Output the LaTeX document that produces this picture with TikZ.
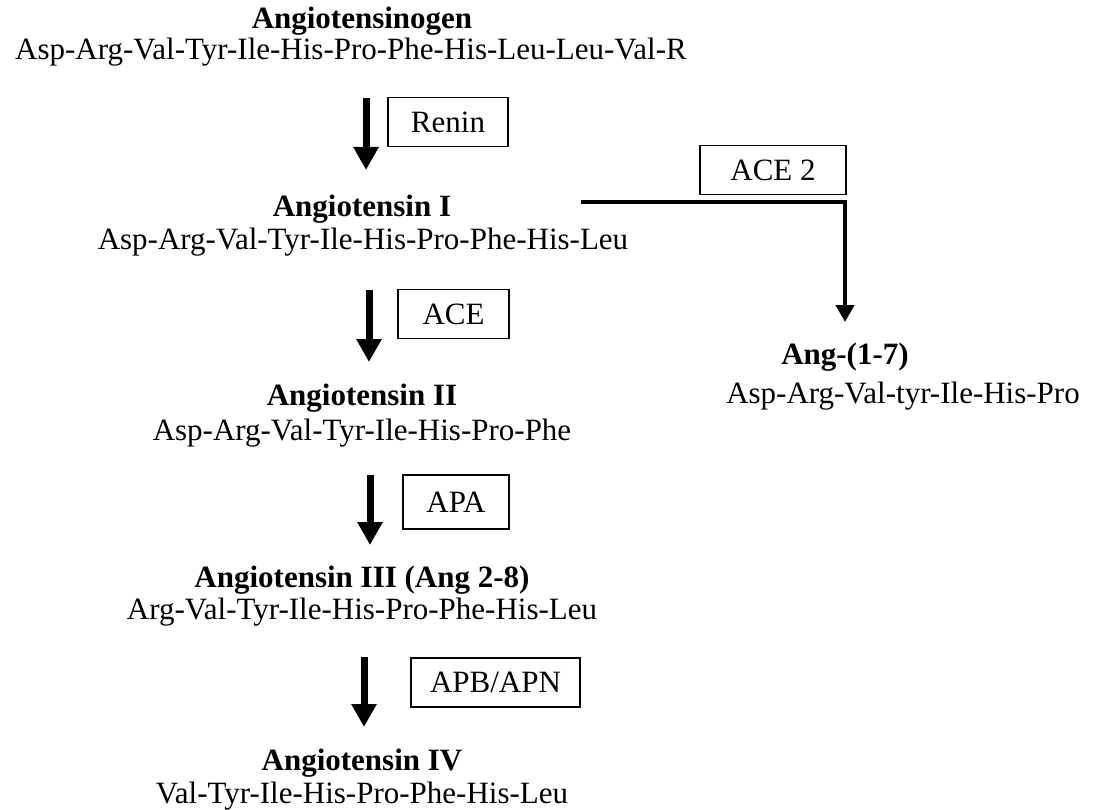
\documentclass[tikz,border=0pt]{standalone}
\usepackage{fontspec}
\setmainfont{Liberation Serif}
\usetikzlibrary{arrows.meta}
\begin{document}
\begin{tikzpicture}[x=1pt,y=-1pt,
  txt/.style={inner sep=0pt, anchor=base, font=\fontsize{31}{36}\selectfont},
  ttl/.style={inner sep=0pt, anchor=base, font=\fontsize{31}{36}\selectfont\bfseries},
  enz/.style={draw, line width=1.5pt, inner sep=0pt, minimum height=49pt, font=\fontsize{31}{36}\selectfont},
  fat/.style={line width=7pt, -{Triangle[width=24pt,length=23pt]}},
  side/.style={line width=4.5pt, line join=miter, -{Triangle[width=18pt,length=17pt]}}]
\useasboundingbox (0,0) rectangle (1094,810);
% texts
\node[ttl] (t0) at (362,29) {Angiotensinogen};
\node[txt] (s0) at (351,60) {Asp-Arg-Val-Tyr-Ile-His-Pro-Phe-His-Leu-Leu-Val-R};
\node[ttl] (t1) at (362,217) {Angiotensin I};
\node[txt] (s1) at (363,250) {Asp-Arg-Val-Tyr-Ile-His-Pro-Phe-His-Leu};
\node[ttl] (t2) at (362,405) {Angiotensin II};
\node[txt] (s2) at (362,440) {Asp-Arg-Val-Tyr-Ile-His-Pro-Phe};
\node[ttl] (t3) at (362,587) {Angiotensin III (Ang 2-8)};
\node[txt] (s3) at (362,619) {Arg-Val-Tyr-Ile-His-Pro-Phe-His-Leu};
\node[ttl] (t4) at (362,770) {Angiotensin IV};
\node[txt] (s4) at (362,803) {Val-Tyr-Ile-His-Pro-Phe-His-Leu};
\node[ttl] (t5) at (845,364) {Ang-(1-7)};
\node[txt] (s5) at (903,403) {Asp-Arg-Val-tyr-Ile-His-Pro};
% enzyme boxes
\node[enz, minimum width=120pt] (renin) at (448,122) {Renin};
\node[enz, minimum width=111pt] (ace) at (453.5,314) {ACE};
\node[enz, minimum width=106pt, minimum height=54pt] (apa) at (456,502) {APA};
\node[enz, minimum width=169pt] (apb) at (495.5,682.5) {APB/APN};
\node[enz, minimum width=146pt] (ace2) at (773,170) {ACE 2};
% arrow endpoints
\coordinate (a1s) at (366,98);  \coordinate (a1e) at (366,170);
\coordinate (a2s) at (369,290); \coordinate (a2e) at (369,362);
\coordinate (a3s) at (370,475); \coordinate (a3e) at (370,545);
\coordinate (a4s) at (364,657); \coordinate (a4e) at (364,727);
\coordinate (bs) at (581,202); \coordinate (bc) at (845,202); \coordinate (be) at (845,322);
\draw[fat] (a1s) -- (a1e);
\draw[fat] (a2s) -- (a2e);
\draw[fat] (a3s) -- (a3e);
\draw[fat] (a4s) -- (a4e);
\draw[side] (bs) -- (bc) -- (be);
\end{tikzpicture}
\end{document}
